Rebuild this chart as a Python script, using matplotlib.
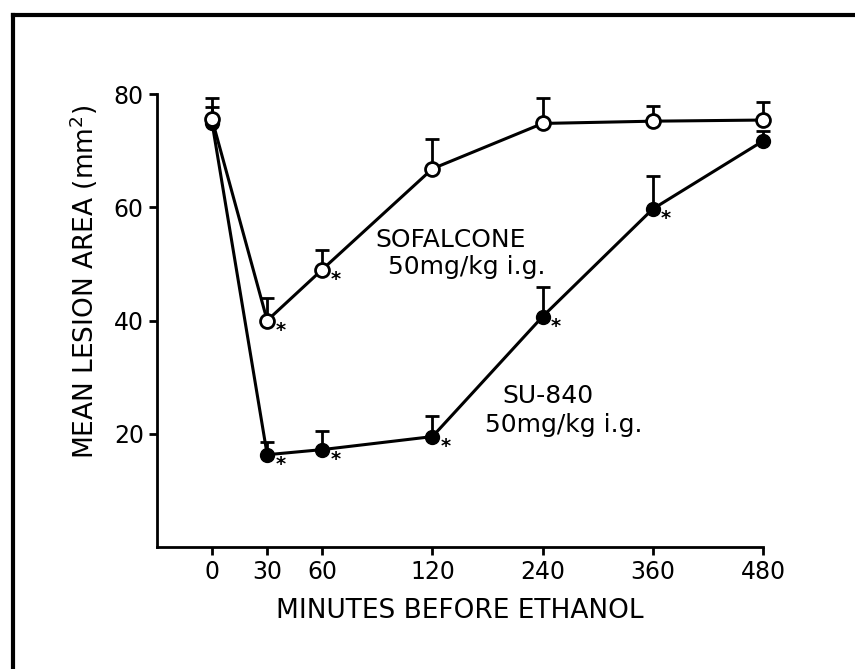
import matplotlib

matplotlib.use("Agg")
import matplotlib.pyplot as plt
import numpy as np
from matplotlib.lines import Line2D

# minutes before ethanol
minutes = [0, 30, 60, 120, 240, 360, 480]
tick_labels = ["0", "30", "60", "120", "240", "360", "480"]

# mean lesion area (mm^2) and upper SEM bars
sofalcone = [75.5, 40.0, 49.0, 66.8, 74.8, 75.2, 75.4]
sofalcone_err = [3.8, 4.0, 3.5, 5.3, 4.5, 2.6, 3.1]
su840 = [74.9, 16.3, 17.2, 19.5, 40.7, 59.7, 71.7]
su840_err = [2.8, 2.3, 3.3, 3.7, 5.3, 5.8, 1.8]

# points marked significant (*)
sofalcone_sig = [30, 60]
su840_sig = [30, 60, 120, 240, 360]


def fwd(x):
    x = np.asarray(x, dtype=float)
    return np.where(x <= 120, x / 30.0, 4 + (x - 120) / 60.0)


def inv(u):
    u = np.asarray(u, dtype=float)
    return np.where(u <= 4, u * 30.0, 120 + (u - 4) * 60.0)


plt.rcParams["font.family"] = ["DejaVu Sans"]
fig = plt.figure(figsize=(8.55, 6.69), dpi=100)
ax = fig.add_axes([157 / 855, 1 - 547 / 669, 606 / 855, (547 - 94) / 669])
ax.set_xscale("function", functions=(fwd, inv))

lw = 2.2
zeros = [0] * len(minutes)
su = ax.errorbar(minutes, su840, yerr=[zeros, su840_err], fmt="o-", color="black",
                 mfc="black", mec="black", ms=10, lw=lw, elinewidth=2, capsize=5,
                 capthick=2, zorder=3)
so = ax.errorbar(minutes, sofalcone, yerr=[zeros, sofalcone_err], fmt="o-", color="black",
                 mfc="white", mec="black", mew=2, ms=10, lw=lw, elinewidth=2, capsize=5,
                 capthick=2, zorder=4)
for container in (su, so):
    for artist in container.get_children():
        artist.set_clip_on(False)

for series, sig in ((sofalcone, sofalcone_sig), (su840, su840_sig)):
    for m in sig:
        v = series[minutes.index(m)]
        ax.annotate("*", (m, v), xytext=(6, -7), textcoords="offset points",
                    fontsize=14, fontweight="bold", ha="left", va="center")

ax.text(88.7, 53.0, "SOFALCONE", fontsize=18)
ax.text(95.8, 48.3, "50mg/kg i.g.", fontsize=18)
ax.text(195.8, 25.4, "SU-840", fontsize=18)
ax.text(177.0, 20.3, "50mg/kg i.g.", fontsize=18)

ax.set_xlim(-30, 480)
ax.set_ylim(0, 80)
ax.set_xticks(minutes)
ax.set_xticklabels(tick_labels)
ax.set_yticks([20, 40, 60, 80])
ax.tick_params(labelsize=17, width=2, length=6, direction="out")
for side in ("top", "right"):
    ax.spines[side].set_visible(False)
for side in ("left", "bottom"):
    ax.spines[side].set_linewidth(2)
ax.spines["bottom"].set_bounds(-30, 480)

ax.set_xlabel("MINUTES BEFORE ETHANOL", fontsize=19, labelpad=10)
ax.set_ylabel("MEAN LESION AREA (mm$^{2}$)", fontsize=19)
ax.yaxis.set_label_coords(-0.094, 0.585)

# photo frame edges
fig.add_artist(Line2D([13 / 855, 13 / 855], [0, 1 - 15 / 669], color="black", lw=3,
                      transform=fig.transFigure))
fig.add_artist(Line2D([13 / 855, 1], [1 - 15 / 669, 1 - 15 / 669], color="black", lw=3,
                      transform=fig.transFigure))

fig.savefig("out.png", dpi=100)
